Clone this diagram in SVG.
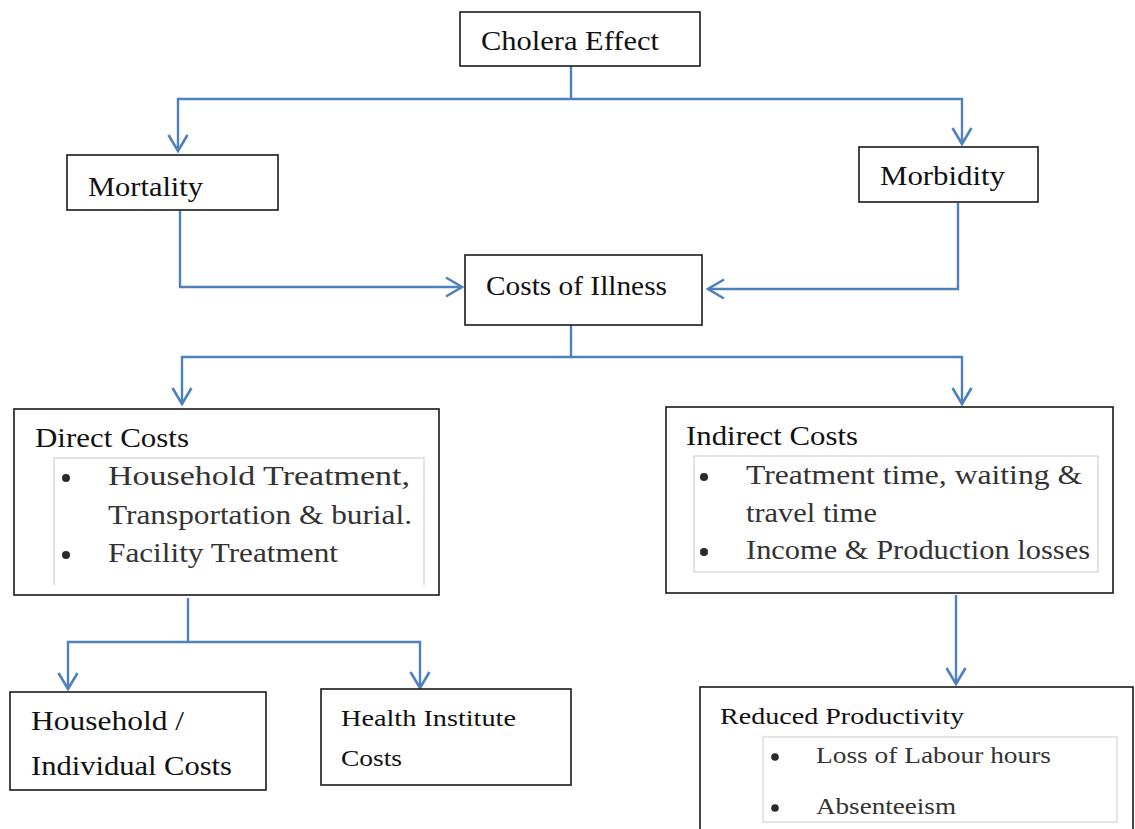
<svg xmlns="http://www.w3.org/2000/svg" width="1135" height="829" viewBox="0 0 1135 829">
<defs>
<style>
.box{fill:#fff;stroke:#1a1a1a;stroke-width:1.6}
.inner{fill:none;stroke:#d9d9d9;stroke-width:1.4}
.t{font-family:"Liberation Serif",serif;font-size:27px;fill:#111}
.s{font-family:"Liberation Serif",serif;font-size:24px;fill:#111}
.b{font-family:"Liberation Serif",serif;font-size:27px;fill:#333}
.bs{font-family:"Liberation Serif",serif;font-size:24px;fill:#333}
.dot{fill:#2a2a2a}
.c{fill:none;stroke:#4f81bd;stroke-width:2.4}
</style>
<marker id="arr" markerUnits="userSpaceOnUse" markerWidth="22" markerHeight="24" viewBox="-19 -12 22 24" refX="0" refY="0" orient="auto">
<path d="M-16,-9.5 L0,0 L-16,9.5" fill="none" stroke="#4f81bd" stroke-width="2.6"/>
</marker>
</defs>
<rect width="1135" height="829" fill="#fff"/>
<g id="connectors">
<path class="c" d="M571,66 V99"/>
<path class="c" d="M571,99 H178 V151" marker-end="url(#arr)"/>
<path class="c" d="M571,99 H962 V144" marker-end="url(#arr)"/>
<path class="c" d="M180,210 V287 H462" marker-end="url(#arr)"/>
<path class="c" d="M958,203 V289 H708" marker-end="url(#arr)"/>
<path class="c" d="M571,325 V357 H182 V404" marker-end="url(#arr)"/>
<path class="c" d="M571,357 H962 V404" marker-end="url(#arr)"/>
<path class="c" d="M188,598 V642 H68 V689" marker-end="url(#arr)"/>
<path class="c" d="M188,642 H420 V688" marker-end="url(#arr)"/>
<path class="c" d="M956,595 V684" marker-end="url(#arr)"/>
</g>
<g id="cholera-effect">
<rect class="box" x="460" y="12" width="240" height="54"/>
<text class="t" x="481" y="50" textLength="178" lengthAdjust="spacingAndGlyphs">Cholera Effect</text>
</g>
<g id="mortality">
<rect class="box" x="67" y="155" width="211" height="55"/>
<text class="t" x="88" y="196" textLength="115" lengthAdjust="spacingAndGlyphs">Mortality</text>
</g>
<g id="morbidity">
<rect class="box" x="859" y="147" width="179" height="55"/>
<text class="t" x="880" y="185" textLength="125" lengthAdjust="spacingAndGlyphs">Morbidity</text>
</g>
<g id="costs-of-illness">
<rect class="box" x="465" y="255" width="237" height="70"/>
<text class="t" x="486" y="295" textLength="181" lengthAdjust="spacingAndGlyphs">Costs of Illness</text>
</g>
<g id="direct-costs">
<rect class="box" x="14" y="409" width="425" height="186"/>
<text class="t" x="35" y="447" textLength="154" lengthAdjust="spacingAndGlyphs">Direct Costs</text>
<path class="inner" d="M54,585 V458 H424 V585"/>
<circle class="dot" cx="66" cy="478" r="4"/>
<text class="b" x="108" y="485" textLength="302" lengthAdjust="spacingAndGlyphs">Household Treatment,</text>
<text class="b" x="108" y="524" textLength="304" lengthAdjust="spacingAndGlyphs">Transportation &amp; burial.</text>
<circle class="dot" cx="66" cy="555" r="4"/>
<text class="b" x="108" y="562" textLength="230" lengthAdjust="spacingAndGlyphs">Facility Treatment</text>
</g>
<g id="indirect-costs">
<rect class="box" x="666" y="407" width="447" height="186"/>
<text class="t" x="686" y="445" textLength="172" lengthAdjust="spacingAndGlyphs">Indirect Costs</text>
<rect class="inner" x="694" y="456" width="404" height="116"/>
<circle class="dot" cx="704" cy="477" r="4"/>
<text class="b" x="746" y="484" textLength="336" lengthAdjust="spacingAndGlyphs">Treatment time, waiting &amp;</text>
<text class="b" x="746" y="522" textLength="131" lengthAdjust="spacingAndGlyphs">travel time</text>
<circle class="dot" cx="704" cy="552" r="4"/>
<text class="b" x="746" y="559" textLength="344" lengthAdjust="spacingAndGlyphs">Income &amp; Production losses</text>
</g>
<g id="household-individual-costs">
<rect class="box" x="10" y="692" width="256" height="98"/>
<text class="t" x="31" y="730" textLength="153" lengthAdjust="spacingAndGlyphs">Household /</text>
<text class="t" x="31" y="775" textLength="201" lengthAdjust="spacingAndGlyphs">Individual Costs</text>
</g>
<g id="health-institute-costs">
<rect class="box" x="321" y="689" width="250" height="96"/>
<text class="s" x="341" y="726" textLength="175" lengthAdjust="spacingAndGlyphs">Health Institute</text>
<text class="s" x="341" y="766" textLength="61" lengthAdjust="spacingAndGlyphs">Costs</text>
</g>
<g id="reduced-productivity">
<rect class="box" x="700" y="687" width="433" height="150"/>
<text class="s" x="720" y="724" textLength="244" lengthAdjust="spacingAndGlyphs">Reduced Productivity</text>
<rect class="inner" x="763" y="737" width="354" height="85"/>
<circle class="dot" cx="775" cy="757" r="3.8"/>
<text class="bs" x="816" y="763" textLength="235" lengthAdjust="spacingAndGlyphs">Loss of Labour hours</text>
<circle class="dot" cx="775" cy="808" r="3.8"/>
<text class="bs" x="816" y="814" textLength="140" lengthAdjust="spacingAndGlyphs">Absenteeism</text>
</g>
</svg>
